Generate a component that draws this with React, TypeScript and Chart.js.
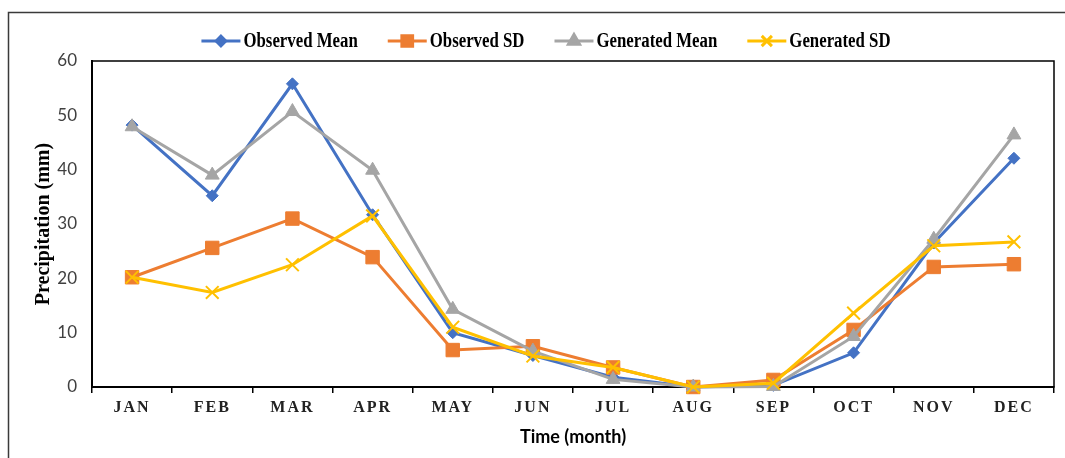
import React, { useEffect, useRef } from "react";
import { Chart, registerables, CategoryScale } from "chart.js";
import { drawPoint } from "chart.js/helpers";

const months = ["JAN", "FEB", "MAR", "APR", "MAY", "JUN", "JUL", "AUG", "SEP", "OCT", "NOV", "DEC"];
const observedMean = [48.2, 35.2, 55.8, 31.7, 10.0, 5.8, 1.8, 0, 0.3, 6.3, 26.5, 42.1];
const observedSD = [20.2, 25.6, 31.0, 23.9, 6.8, 7.5, 3.6, 0, 1.3, 10.5, 22.1, 22.6];
const generatedMean = [47.9, 39.0, 50.7, 39.9, 14.3, 6.6, 1.4, 0, 0.1, 9.3, 27.2, 46.4];
const generatedSD = [20.2, 17.4, 22.5, 31.5, 11.0, 5.7, 3.6, 0, 0.7, 13.6, 26.0, 26.7];
const yTicks = [0, 10, 20, 30, 40, 50, 60];

class SpacedCategoryScale extends CategoryScale {
  static id = "spacedCategory";
  static defaults = CategoryScale.defaults;
  drawLabels(chartArea: any) {
    const ctx: any = this.ctx;
    ctx.save();
    ctx.letterSpacing = "2px";
    super.drawLabels(chartArea);
    ctx.restore();
  }
}

Chart.register(...registerables, SpacedCategoryScale);

const SERIF = "'Liberation Serif', 'Times New Roman', serif";
const SANS = "Lato, 'Open Sans', sans-serif";

const framePlugin = {
  id: "frames",
  beforeDraw(chart: any) {
    const ctx = chart.ctx;
    ctx.save();
    ctx.strokeStyle = "#3a3a3a";
    ctx.lineWidth = 1.5;
    ctx.strokeRect(8.5, 12.5, chart.width + 20, chart.height + 20);
    ctx.restore();
  },
  beforeDatasetsDraw(chart: any) {
    const { ctx, chartArea } = chart;
    ctx.save();
    ctx.strokeStyle = "#000";
    ctx.lineWidth = 1.5;
    ctx.strokeRect(chartArea.left, chartArea.top, chartArea.right - chartArea.left, chartArea.bottom - chartArea.top);
    ctx.restore();
  },
};

const legendPlugin = {
  id: "lineLegend",
  afterDraw(chart: any) {
    const ctx = chart.ctx;
    const items = chart.data.datasets;
    const lineLen = 39;
    const gap = 30;
    const textGap = 3;
    const sx = 0.84;
    const y = 41;
    ctx.save();
    ctx.font = `bold 20px ${SERIF}`;
    const widths = items.map((d: any) => ctx.measureText(d.label).width * sx);
    const total = widths.reduce((a: number, w: number) => a + w + lineLen + textGap, 0) + gap * (items.length - 1);
    let x = 546 - total / 2;
    items.forEach((d: any, i: number) => {
      ctx.strokeStyle = d.borderColor;
      ctx.lineWidth = 3;
      ctx.beginPath();
      ctx.moveTo(x, y);
      ctx.lineTo(x + lineLen, y);
      ctx.stroke();
      ctx.fillStyle = d.pointBackgroundColor;
      ctx.strokeStyle = d.pointBorderColor;
      drawPoint(ctx, { pointStyle: d.pointStyle, radius: d.pointRadius * 0.8, rotation: 0, borderWidth: d.pointBorderWidth }, x + lineLen / 2, y);
      ctx.fillStyle = "#000";
      ctx.textBaseline = "middle";
      ctx.textAlign = "left";
      ctx.save();
      ctx.translate(x + lineLen + textGap, y + 1);
      ctx.scale(sx, 1);
      ctx.fillText(d.label, 0, 0);
      ctx.restore();
      x += lineLen + textGap + widths[i] + gap;
    });
    ctx.restore();
  },
};

function series(label: string, data: number[], color: string, style: string, radius: number, pbw: number, order: number) {
  return {
    label,
    data,
    borderColor: color,
    backgroundColor: color,
    pointBackgroundColor: color,
    pointBorderColor: color,
    pointStyle: style,
    pointRadius: radius,
    pointHoverRadius: radius,
    pointBorderWidth: pbw,
    borderWidth: 3,
    tension: 0,
    clip: false as any,
    order,
  };
}

export default function App() {
  const ref = useRef<HTMLCanvasElement | null>(null);
  useEffect(() => {
    if (!ref.current) return;
    const chart = new Chart(ref.current, {
      type: "line",
      data: {
        labels: months,
        datasets: [
          series("Observed Mean", observedMean, "#4472C4", "rectRot", 6, 1, 4),
          series("Observed SD", observedSD, "#ED7D31", "rect", 9.5, 1, 3),
          series("Generated Mean", generatedMean, "#A5A5A5", "triangle", 8, 1, 2),
          series("Generated SD", generatedSD, "#FFC000", "crossRot", 9, 2, 1),
        ] as any,
      },
      options: {
        animation: false,
        responsive: true,
        maintainAspectRatio: false,
        layout: { padding: { top: 61, right: 5, left: 0, bottom: 0 } },
        plugins: { legend: { display: false }, tooltip: { enabled: false } },
        scales: {
          x: {
            type: "spacedCategory" as any,
            offset: true,
            afterFit: (s: any) => { s.height = 71; },
            grid: { display: true, offset: true, drawOnChartArea: false, drawTicks: true, tickLength: 6, color: "#000", lineWidth: 1.5 },
            border: { display: true, color: "#000", width: 2 },
            ticks: { font: { family: SERIF, size: 16, weight: "bold" }, color: "#222", padding: 5, maxRotation: 0, autoSkip: false },
            title: { display: true, text: "Time (month)", font: { family: SANS, size: 18, weight: "bold" }, color: "#000", padding: { top: 0, bottom: 10 } },
          } as any,
          y: {
            min: 0,
            max: 60,
            afterFit: (s: any) => { s.width = 92; },
            afterBuildTicks: (s: any) => { s.ticks = yTicks.map((v) => ({ value: v })); },
            grid: { display: false, drawTicks: false },
            border: { display: true, color: "#000", width: 2 },
            ticks: { font: { family: SANS, size: 17 }, color: "#404040", padding: 15 },
            title: { display: true, text: "Precipitation (mm)", font: { family: SERIF, size: 20, weight: "bold" }, color: "#000", padding: { top: 32, bottom: 0 } },
          } as any,
        },
      },
      plugins: [framePlugin, legendPlugin],
    });
    return () => chart.destroy();
  }, []);
  return (
    <div style={{ position: "fixed", left: 0, top: 0, width: 1065, height: 458, background: "#fff" }}>
      <canvas ref={ref} />
    </div>
  );
}
